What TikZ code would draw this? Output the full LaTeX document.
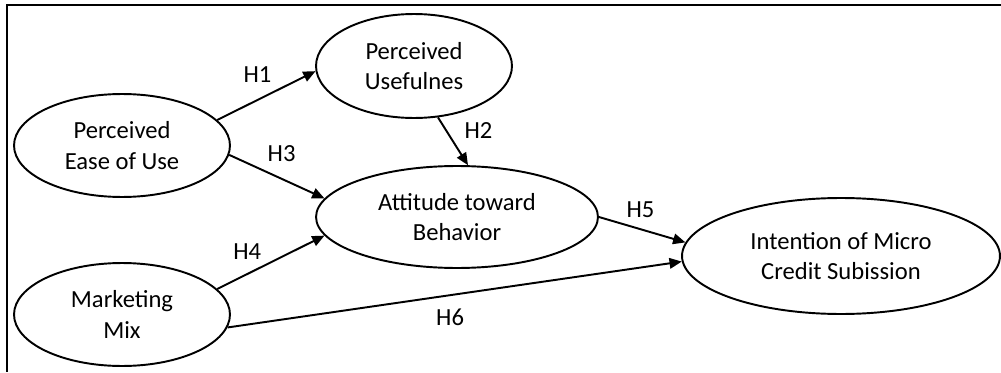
\documentclass[tikz,border=0pt]{standalone}
\usepackage{fontspec}
\setmainfont{Carlito}
\usepackage{tikz}
\usetikzlibrary{shapes.geometric,arrows.meta}
\tikzstyle{construct} = [draw, shape=ellipse, line width=1.1pt, inner sep=0pt, align=center, font=\fontsize{14}{17.5}\selectfont]
\tikzstyle{hyp} = [-{Triangle[length=7pt,width=6pt]}, line width=1.1pt]
\tikzstyle{lbl} = [inner sep=1pt, font=\fontsize{14}{17}\selectfont]

\begin{document}
\begin{tikzpicture}[x=0.02cm, y=-0.02cm]
    \useasboundingbox (0,0) rectangle (1001,372);
    \draw[line width=1.2pt] (1001,5) -- (7,5) -- (7,372);
    \draw (122,145.5) node[construct, minimum width=4.32cm, minimum height=2.06cm] (peou) {Perceived\\Ease of Use};
    \draw (414,66) node[construct, minimum width=3.92cm, minimum height=2.08cm] (pu) {Perceived\\Usefulnes};
    \draw (457,217) node[construct, minimum width=5.64cm, minimum height=2.04cm] (atb) {Attitude toward\\Behavior};
    \draw (841,256) node[construct, minimum width=6.36cm, minimum height=2.32cm] (ics) {Intention of Micro\\Credit Subission};
    \draw (122,314.5) node[construct, minimum width=4.32cm, minimum height=2.06cm] (mm) {Marketing\\Mix};
    \draw [hyp] (peou.15) -- node [lbl, above=8.5pt, pos=.41] {H1} (pu.183);
    \draw [hyp] (pu.-65) -- node [lbl, right=9pt, pos=.27] {H2} (atb.78);
    \draw [hyp] (peou.-5) -- node [lbl, above=8pt, pos=.55] {H3} (atb.172);
    \draw [hyp] (mm.15) -- node [lbl, above=6.5pt, pos=.28] {H4} (atb.188);
    \draw [hyp] (atb.east) -- node [lbl, above=5pt, pos=.48] {H5} (ics.175);
    \draw [hyp] (mm.-7) -- node [lbl, below=6.5pt, pos=.49] {H6} (ics.182);
\end{tikzpicture}
\end{document}
